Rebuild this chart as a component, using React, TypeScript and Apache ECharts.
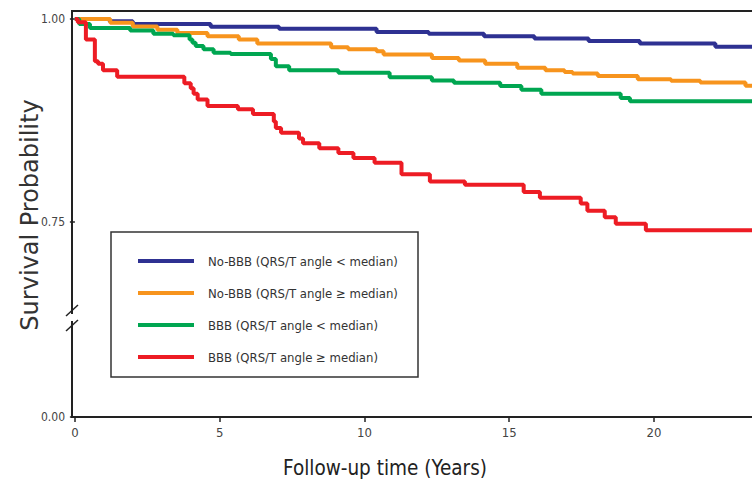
import React, { useEffect, useRef } from "react";
import * as echarts from "echarts";

// Kaplan-Meier step data: [time (years), survival probability after that time]
const noBbbLow: [number, number][] = [
  [0, 1.0], [1.2, 0.9975], [2.0, 0.994], [4.69, 0.9905], [7.05, 0.988], [10.42, 0.984],
  [12.22, 0.982], [14.13, 0.979], [15.87, 0.976], [17.74, 0.973], [19.51, 0.97],
  [22.12, 0.966], [24, 0.966],
];
const noBbbHigh: [number, number][] = [
  [0, 1.0], [1.22, 0.9955], [2.0, 0.991], [2.85, 0.987], [3.54, 0.983], [4.58, 0.979],
  [5.66, 0.975], [6.3, 0.97], [8.85, 0.9655], [9.44, 0.963], [10.42, 0.9605],
  [10.66, 0.9565], [12.33, 0.952], [13.26, 0.949], [14.17, 0.945], [15.28, 0.94],
  [16.25, 0.937], [16.91, 0.935], [17.19, 0.933], [18.06, 0.93], [19.44, 0.926],
  [20.59, 0.924], [21.6, 0.922], [23.16, 0.918], [24, 0.918],
];
const bbbLow: [number, number][] = [
  [0, 1.0], [0.15, 0.994], [0.52, 0.989], [1.91, 0.986], [2.71, 0.982], [3.4, 0.98],
  [3.96, 0.975], [4.06, 0.971], [4.17, 0.967], [4.44, 0.963], [4.79, 0.9585],
  [5.38, 0.957], [6.77, 0.951], [6.94, 0.942], [7.4, 0.937], [9.1, 0.934],
  [10.87, 0.9285], [12.33, 0.9245], [13.09, 0.9215], [14.69, 0.9175], [15.42, 0.913],
  [16.11, 0.908], [18.85, 0.903], [19.17, 0.899], [24, 0.899],
];
const bbbHigh: [number, number][] = [
  [0, 1.0], [0.1, 0.996], [0.38, 0.975], [0.69, 0.948], [0.8, 0.945], [0.97, 0.937],
  [1.46, 0.929], [3.78, 0.921], [4.0, 0.915], [4.1, 0.908], [4.24, 0.901], [4.58, 0.893],
  [5.63, 0.889], [6.15, 0.883], [6.87, 0.874], [6.94, 0.866], [7.12, 0.86], [7.74, 0.853],
  [7.88, 0.847], [8.44, 0.841], [9.1, 0.835], [9.62, 0.829], [10.35, 0.823], [11.28, 0.809],
  [12.26, 0.8], [13.47, 0.796], [15.5, 0.787], [16.06, 0.78], [17.47, 0.773], [17.7, 0.764],
  [18.3, 0.756], [18.68, 0.748], [19.72, 0.74], [24, 0.74],
];

const seriesNames = [
  "No-BBB (QRS/T angle < median)",
  "No-BBB (QRS/T angle \u2265 median)",
  "BBB (QRS/T angle < median)",
  "BBB (QRS/T angle \u2265 median)",
];
const seriesColors = ["#2e3192", "#f7941d", "#00a651", "#ed1c24"];
const xTicks = [0, 5, 10, 15, 20];
// broken axis: bottom of the axis is labelled 0.00
const yAxisBottom = 0.51;
const yTickValues = [yAxisBottom, 0.75, 1.0];
const yTickLabels = ["0.00", "0.75", "1.00"];
const xTitle = "Follow-up time (Years)";
const yTitle = "Survival Probability";

const narrow = "'DejaVu Sans Condensed', 'Liberation Sans Narrow', sans-serif";

export default function App() {
  const ref = useRef<HTMLDivElement>(null);
  useEffect(() => {
    if (!ref.current) return;
    const chart = echarts.init(ref.current, undefined, { renderer: "svg" });
    const datasets = [noBbbLow, noBbbHigh, bbbLow, bbbHigh];
    chart.setOption({
      animation: false,
      backgroundColor: "#ffffff",
      grid: {
        left: 72,
        top: 11,
        right: -12,
        height: 406,
        show: true,
        borderColor: "#222",
        borderWidth: 2,
        backgroundColor: "transparent",
        outerBoundsMode: "none",
        containLabel: false,
      },
      xAxis: {
        type: "value",
        min: -0.1,
        max: 23.8,
        axisLine: { show: false },
        splitLine: { show: false },
        axisTick: { show: true, customValues: xTicks, length: 5, lineStyle: { color: "#222", width: 1.5 } },
        axisLabel: {
          customValues: xTicks,
          color: "#444",
          fontFamily: narrow,
          fontSize: 13,
          margin: 9,
        },
      },
      yAxis: {
        type: "value",
        min: yAxisBottom,
        max: 1.01,
        axisLine: { show: false },
        splitLine: { show: false },
        axisTick: { show: true, customValues: yTickValues, length: 5, lineStyle: { color: "#222", width: 1.5 } },
        axisLabel: {
          customValues: yTickValues,
          color: "#444",
          fontFamily: narrow,
          fontSize: 12,
          margin: 7,
          formatter: (v: number) => {
            const i = yTickValues.findIndex((t) => Math.abs(t - v) < 1e-6);
            return i >= 0 ? yTickLabels[i] : "";
          },
        },
      },
      legend: {
        orient: "vertical",
        left: 133,
        top: 248,
        itemWidth: 56,
        itemHeight: 4,
        itemGap: 16,
        icon: "rect",
        data: seriesNames,
        textStyle: {
          fontFamily: narrow,
          fontSize: 13,
          color: "#333",
          lineHeight: 16,
          padding: [0, 0, 0, 9],
        },
      },
      graphic: [
        {
          type: "rect",
          shape: { x: 111, y: 232, width: 307, height: 145 },
          style: { fill: "#fff", stroke: "#333", lineWidth: 1.5 },
          z: 1,
        },
        {
          type: "text",
          x: 385,
          y: 468,
          style: {
            text: xTitle,
            fontFamily: narrow,
            fontSize: 20.5,
            fill: "#222",
            align: "center",
            verticalAlign: "middle",
          },
        },
        {
          type: "text",
          x: 30,
          y: 215,
          rotation: Math.PI / 2,
          style: {
            text: yTitle,
            fontFamily: "'DejaVu Sans', sans-serif",
            fontSize: 24,
            fill: "#333",
            align: "center",
            verticalAlign: "middle",
          },
        },
        {
          type: "rect",
          shape: { x: 69, y: 314, width: 6, height: 7 },
          style: { fill: "#fff" },
          z: 10,
        },
        {
          type: "line",
          shape: { x1: 66, y1: 316, x2: 78, y2: 305 },
          style: { stroke: "#222", lineWidth: 1.5 },
          z: 11,
        },
        {
          type: "line",
          shape: { x1: 66, y1: 331, x2: 78, y2: 320 },
          style: { stroke: "#222", lineWidth: 1.5 },
          z: 11,
        },
      ],
      series: datasets.map((d, i) => ({
        type: "line",
        name: seriesNames[i],
        data: d,
        step: "end",
        showSymbol: false,
        color: seriesColors[i],
        lineStyle: { width: 4, color: seriesColors[i] },
        clip: true,
        z: 3 + i,
      })),
    });
    return () => chart.dispose();
  }, []);
  return (
    <div
      ref={ref}
      style={{ position: "absolute", left: 0, top: 0, width: 752, height: 492 }}
    />
  );
}
